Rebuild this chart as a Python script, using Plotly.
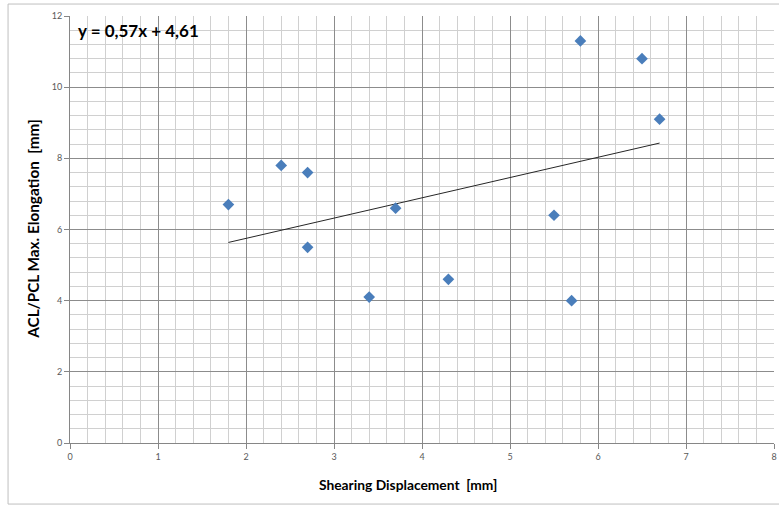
import plotly.graph_objects as go

# Data
shear_disp = [1.8, 2.4, 2.7, 2.7, 3.4, 3.7, 4.3, 5.5, 5.7, 5.8, 6.5, 6.7]
elongation = [6.7, 7.8, 7.6, 5.5, 4.1, 6.6, 4.6, 6.4, 4.0, 11.3, 10.8, 9.1]
trend_slope = 0.57
trend_intercept = 4.61
x_ticks = [0, 1, 2, 3, 4, 5, 6, 7, 8]
y_ticks = [0, 2, 4, 6, 8, 10, 12]

x0, x1 = min(shear_disp), max(shear_disp)
trend_x = [x0, x1]
trend_y = [trend_slope * v + trend_intercept for v in trend_x]

FONT = "Lato, Carlito, Calibri, Liberation Sans, sans-serif"

fig = go.Figure()
fig.add_trace(go.Scatter(
    x=trend_x, y=trend_y, mode="lines",
    line=dict(color="#262626", width=1), showlegend=False, hoverinfo="skip"))
fig.add_trace(go.Scatter(
    x=shear_disp, y=elongation, mode="markers",
    marker=dict(symbol="diamond", size=9, color="#4A7EBB",
                line=dict(width=0)), showlegend=False))

fig.add_annotation(
    x=0.009, y=0.966, xref="paper", yref="paper", xanchor="left", yanchor="middle",
    text="<b>y = 0,57x + 4,61</b>", showarrow=False,
    font=dict(family=FONT, size=17, color="#000000"))
# axis titles
fig.add_annotation(
    x=0.480, y=-0.098, xref="paper", yref="paper", xanchor="center", yanchor="middle",
    text="<b>Shearing Displacement  [mm]</b>", showarrow=False,
    font=dict(family=FONT, size=13.8, color="#000000"))
fig.add_annotation(
    x=-0.053, y=0.501, xref="paper", yref="paper", xanchor="center", yanchor="middle",
    text="<b>ACL/PCL Max. Elongation  [mm]</b>", showarrow=False, textangle=-90,
    font=dict(family=FONT, size=15.3, color="#000000"))

axis_common = dict(
    showline=True, linecolor="#868686", linewidth=1,
    ticks="outside", ticklen=5, tickcolor="#868686",
    showgrid=True, gridcolor="#8c8c8c", gridwidth=1,
    zeroline=False, automargin=False, ticklabeloverflow="allow",
    tickfont=dict(family=FONT, size=9, color="#595959"),
)

fig.update_layout(
    width=779, height=506,
    margin=dict(l=70, r=5, t=16, b=63),
    paper_bgcolor="white", plot_bgcolor="white",
    xaxis=dict(range=[0, 8], tickvals=x_ticks, ticktext=[str(v) for v in x_ticks],
               minor=dict(dtick=0.2, showgrid=True, gridcolor="#d0d0d0", gridwidth=1,
                          tick0=0),
               **axis_common),
    yaxis=dict(range=[0, 12], tickvals=y_ticks, ticktext=[str(v) for v in y_ticks],
               minor=dict(dtick=0.4, showgrid=True, gridcolor="#d0d0d0", gridwidth=1,
                          tick0=0),
               **axis_common),
    shapes=[dict(type="rect", xref="paper", yref="paper", x0=-0.088, x1=1.03,
                 y0=-0.143, y1=1.028, line=dict(color="#bfbfbf", width=1),
                 layer="below")],
)

# remove the default page margin so the 779x506 figure fills the window exactly
fig.write_html("out.html", config={"displayModeBar": False}, post_script=(
    "document.body.style.margin='0px';"
    "document.documentElement.style.overflow='hidden';"))
